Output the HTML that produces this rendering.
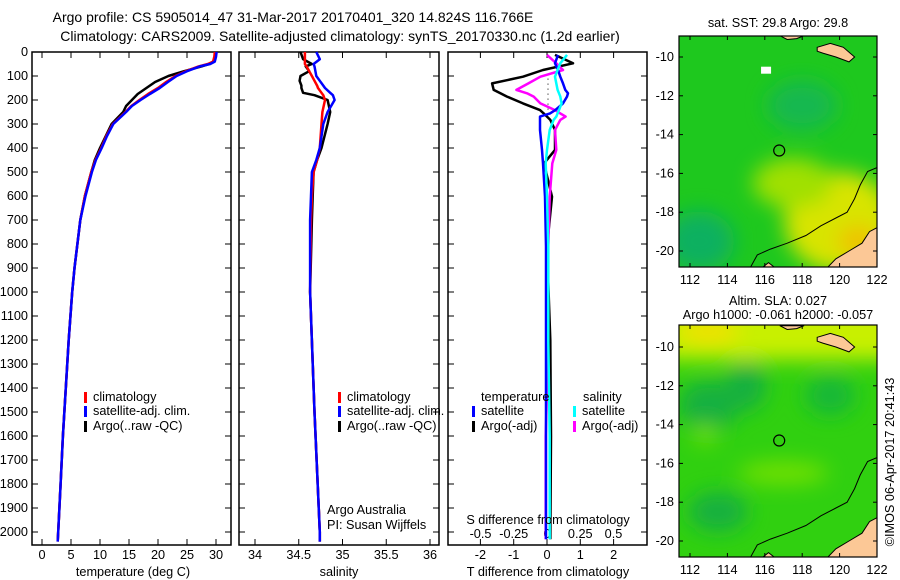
<!DOCTYPE html>
<html><head><meta charset="utf-8"><style>
body{margin:0;background:#fff;}
svg{display:block;font-family:"Liberation Sans",sans-serif;}
text{font-size:12.7px;fill:#000;}
</style></head><body>
<svg id="chart" width="900" height="580" viewBox="0 0 900 580">
<defs>
<filter id="blur1"><feGaussianBlur stdDeviation="10"/></filter>
<clipPath id="clipTop"><rect x="679" y="36" width="198" height="231"/></clipPath>
<clipPath id="clipBot"><rect x="679" y="325" width="198" height="232"/></clipPath>
</defs>
<g>
<text x="293" y="22" text-anchor="middle" style="font-size:14px">Argo profile: CS 5905014_47 31-Mar-2017 20170401_320 14.824S 116.766E</text>
<text x="340" y="41" text-anchor="middle" style="font-size:14px">Climatology: CARS2009. Satellite-adjusted climatology: synTS_20170330.nc (1.2d earlier)</text>
</g>
<g id="panels"></g>
<g id="maps"></g>
<text x="894" y="462" transform="rotate(-90 894 462)" text-anchor="middle">©IMOS 06-Apr-2017 20:41:43</text>
</svg>
<script>
// ---- data ----
const tDepth = [0,20,40,50,60,80,100,125,150,175,200,225,250,300,350,400,450,500,600,700,800,900,1000,1200,1400,1600,1800,2000,2040];
const tSat   = [30.1,30,29.8,29,27.2,25,23.2,21.7,20.3,18.6,17,15.5,14.5,12.3,11.2,10.3,9.3,8.6,7.5,6.6,6.1,5.6,5.2,4.6,4.1,3.6,3.2,2.8,2.7];
const tClim  = [29.8,29.7,29.5,28.6,27,24.8,23,21.4,20,18.3,16.8,15.4,14.4,12.2,11.1,10.2,9.2,8.5,7.4,6.6,6.1,5.6,5.2,4.6,4.1,3.6,3.2,2.8,2.7];
const tArgo  = [30,29.9,29.5,28.8,27.5,24.5,21.8,19.5,18,16.5,15.5,14.5,14,12,11,10,9.1,8.5,7.4,6.6,6.1,5.6,5.2,4.6,4.1,3.6,3.2,2.8,2.7];
const sDepth = [0,30,50,60,80,100,120,140,150,170,180,200,250,300,400,450,500,600,700,1000,1500,2000,2040];
const sSat   = [34.70,34.74,34.67,34.68,34.69,34.70,34.74,34.78,34.80,34.86,34.89,34.91,34.83,34.78,34.74,34.70,34.65,34.64,34.63,34.63,34.68,34.74,34.74];
const sClim  = [34.57,34.57,34.57,34.59,34.62,34.65,34.68,34.71,34.72,34.76,34.78,34.80,34.77,34.76,34.74,34.71,34.67,34.65,34.64,34.63,34.68,34.74,34.74];
const sArgo  = [34.52,34.55,34.65,34.58,34.62,34.52,34.51,34.53,34.53,34.55,34.68,34.83,34.86,34.83,34.76,34.71,34.67,34.66,34.65,34.63,34.68,34.74,34.74];
const dDepth = [12,47,75,103,131,158,172,186,214,242,256,269,283,325,408,464,603,811,1200,1600,2030];
const dTSat  = [0.33,0.24,0.33,0.40,0.48,0.55,0.63,0.60,0.48,0.25,0.09,-0.21,-0.21,-0.21,-0.15,-0.12,-0.06,-0.03,-0.03,-0.03,-0.03];
const dTArgo = [0.24,0.78,-0.12,-0.72,-1.65,-1.6,-1.4,-1.2,-0.72,-0.21,-0.1,0,0.1,0.24,0.24,-0.09,0.15,0,0.1,0.12,0.1];
const dSSat  = [0.15,0.10,0.08,0.06,0.07,0.08,0.09,0.10,0.11,0.09,0.08,0.07,0.05,0.02,0.0,-0.01,0,0.01,0.01,0.02,0.02];
const dSArgo = [0,0.07,0.12,-0.05,-0.14,-0.23,-0.15,-0.10,-0.05,0.06,0.10,0.14,0.10,0.06,0.07,0.04,0.02,0.01,0.01,-0.01,-0.01];
const depthTicks = [0,100,200,300,400,500,600,700,800,900,1000,1100,1200,1300,1400,1500,1600,1700,1800,1900,2000];
const tTicks = [0,5,10,15,20,25,30];
const sTicks = [34,34.5,35,35.5,36];
const dTTicks = [-2,-1,0,1,2];
const dSTicks = [-0.5,-0.25,0,0.25,0.5];
const dSTickLabels = ["-0.5","-0.25","0","0.25","0.5"];
const lonTicks = [112,114,116,118,120,122];
const latTicks = [-10,-12,-14,-16,-18,-20];

const NS="http://www.w3.org/2000/svg";
function mk(tag,attrs,parent){const e=document.createElementNS(NS,tag);for(const k in attrs)e.setAttribute(k,attrs[k]);parent.appendChild(e);return e;}
const yD = d => 52 + d*0.24;
const xT = v => 42 + v*5.8;
const xS = v => 255 + (v-34)*87.5;
const xDT = v => 547 + v*33.3;
const xDS = v => 547 + v*133;
const pTop=52,pBot=545;
const panels=document.getElementById('panels');

function frame(x0,x1,name){
  const r=mk('rect',{x:x0,y:pTop,width:x1-x0,height:pBot-pTop,fill:'none',stroke:'#000','stroke-width':1.5},panels);
  
  
  depthTicks.forEach(d=>{
    mk('line',{x1:x0,x2:x0+6,y1:yD(d),y2:yD(d),stroke:'#000'},panels);
    mk('line',{x1:x1-6,x2:x1,y1:yD(d),y2:yD(d),stroke:'#000'},panels);
  });
}
function xticks(vals,fx,labels,labelY,tickTop){
  vals.forEach((v,i)=>{
    const x=fx(v);
    mk('line',{x1:x,x2:x,y1:pBot,y2:pBot-6,stroke:'#000'},panels);
    if(tickTop) mk('line',{x1:x,x2:x,y1:pTop,y2:pTop+6,stroke:'#000'},panels);
    const t=mk('text',{x:x,y:labelY,'text-anchor':'middle'},panels);
    t.textContent=labels?labels[i]:String(v);
    
    
  });
}
function line(depths,vals,fx,color,name,w){
  const pts=depths.map((d,i)=>fx(vals[i]).toFixed(1)+','+yD(d).toFixed(1)).join(' ');
  const p=mk('polyline',{points:pts,fill:'none',stroke:color,'stroke-width':w||2.5,'stroke-linejoin':'round'},panels);
  
  
}
function legend(x,y,color,label){
  mk('rect',{x:x,y:y-9,width:3,height:11,fill:color},panels);
  const t=mk('text',{x:x+9,y:y},panels);t.textContent=label;
  
  
}
function txt(x,y,s,anchor,name){const t=mk('text',{x:x,y:y,'text-anchor':anchor||'start'},panels);t.textContent=s;
  
  return t;}

// Panel 1
frame(32,231,'temperature-panel');
depthTicks.forEach(d=>{const t=mk('text',{x:28,y:yD(d)+4,'text-anchor':'end'},panels);t.textContent=String(d);
  
  });
xticks(tTicks,xT,null,559,true);
line(tDepth,tArgo,xT,'#000','temp-argo-line');
line(tDepth,tClim,xT,'#f00','temp-climatology-line');
line(tDepth,tSat,xT,'#00f','temp-satellite-line');
txt(133,576,'temperature (deg C)','middle','x-axis-title-temperature');
legend(84,401,'#f00','climatology');
legend(84,415,'#00f','satellite-adj. clim.');
legend(84,430,'#000','Argo(..raw -QC)');

// Panel 2
frame(239,439,'salinity-panel');
xticks(sTicks,xS,null,559,true);
line(sDepth,sArgo,xS,'#000','sal-argo-line');
line(sDepth,sClim,xS,'#f00','sal-climatology-line');
line(sDepth,sSat,xS,'#00f','sal-satellite-line');
txt(339,576,'salinity','middle','x-axis-title-salinity');
legend(338,401,'#f00','climatology');
legend(338,415,'#00f','satellite-adj. clim.');
legend(338,430,'#000','Argo(..raw -QC)');
txt(327,514,'Argo Australia','start','credit-line1');
txt(327,529,'PI: Susan Wijffels','start','credit-line2');

// Panel 3
frame(448,647,'difference-panel');
mk('line',{x1:548,x2:548,y1:yD(90),y2:yD(250),stroke:'#000','stroke-dasharray':'1,4'},panels);
xticks(dTTicks,xDT,null,559,false);
dSTicks.forEach((v,i)=>{const t=mk('text',{x:xDS(v),y:538,'text-anchor':'middle'},panels);t.textContent=dSTickLabels[i];
  
  });
dTTicks.forEach(v=>mk('line',{x1:xDT(v),x2:xDT(v),y1:pTop,y2:pTop+6,stroke:'#000'},panels));
line(dDepth,dTArgo,xDT,'#000','tdiff-argo-line');
line(dDepth,dSArgo,xDS,'#f0f','sdiff-argo-line');
line(dDepth,dTSat,xDT,'#00f','tdiff-satellite-line');
line(dDepth,dSSat,xDS,'#0ff','sdiff-satellite-line');
txt(548,524,'S difference from climatology','middle','s-diff-axis-title');
txt(548,576,'T difference from climatology','middle','t-diff-axis-title');
txt(481,401,'temperature','start','legend-header-temperature');
txt(583,401,'salinity','start','legend-header-salinity');
legend(472,415,'#00f','satellite');
legend(472,430,'#000','Argo(-adj)');
legend(573,415,'#0ff','satellite');
legend(573,430,'#f0f','Argo(-adj)');

// ---- maps ----
const maps=document.getElementById('maps');
const lonX = lon => 690 + (lon-112)*18.7;
function drawMap(y0,y1,latY0,clip,name,title1,title2,kind){
  const g=mk('g',{'clip-path':'url(#'+clip+')'},maps);
  
  
  const latY = lat => latY0 + (-lat-10)*19.4;
  if(kind==='sst'){
    mk('rect',{x:679,y:y0,width:198,height:y1-y0,fill:'#1ec81e'},g);
    const b=mk('g',{filter:'url(#blur1)'},g);
    mk('ellipse',{cx:lonX(120),cy:latY(-18.5),rx:55,ry:50,fill:'#d8e400'},b);
    mk('ellipse',{cx:lonX(117.5),cy:latY(-16.5),rx:40,ry:25,fill:'#a0e000'},b);
    mk('ellipse',{cx:lonX(112.5),cy:latY(-19.5),rx:35,ry:30,fill:'#10b060'},b);
    mk('ellipse',{cx:lonX(118),cy:latY(-12.5),rx:35,ry:25,fill:'#18b850'},b);
    mk('ellipse',{cx:lonX(121),cy:latY(-19.5),rx:20,ry:15,fill:'#f0c000'},b);
    mk('rect',{x:lonX(115.8),y:latY(-10.5),width:10,height:7,fill:'#fff'},g);
  } else {
    mk('rect',{x:679,y:y0,width:198,height:y1-y0,fill:'#30d010'},g);
    const b=mk('g',{filter:'url(#blur1)'},g);
    mk('rect',{x:660,y:y0-20,width:240,height:55,fill:'#c8f000'},b);
    mk('ellipse',{cx:lonX(113),cy:latY(-13),rx:30,ry:25,fill:'#18b040'},b);
    mk('ellipse',{cx:lonX(115),cy:latY(-12),rx:20,ry:25,fill:'#18b040'},b);
    mk('ellipse',{cx:lonX(119.5),cy:latY(-12.5),rx:25,ry:20,fill:'#18b838'},b);
    mk('ellipse',{cx:lonX(113.5),cy:latY(-18.5),rx:30,ry:20,fill:'#18b040'},b);
    mk('ellipse',{cx:lonX(117),cy:latY(-16.5),rx:45,ry:12,fill:'#70e000'},b);
    mk('ellipse',{cx:lonX(112.8),cy:latY(-14.5),rx:12,ry:10,fill:'#70e000'},b);
    mk('ellipse',{cx:lonX(113),cy:latY(-9.2),rx:30,ry:12,fill:'#f0e000'},b);
  }
  const P = arr => arr.map(p=>lonX(p[0]).toFixed(1)+','+latY(p[1]).toFixed(1)).join(' ');
  const land='#fcc896';
  mk('polygon',{points:P([[119.3,-20.9],[119.8,-20.4],[120.5,-20.0],[121.2,-19.6],[121.6,-19.0],[122.2,-18.7],[122.2,-21],[119.3,-21]]),fill:land,stroke:'#000'},g);
  mk('polygon',{points:P([[118.8,-9.5],[119.5,-9.3],[120.2,-9.5],[120.8,-10.0],[120.5,-10.25],[119.8,-10.0],[119.1,-9.8],[118.8,-9.7]]),fill:land,stroke:'#000'},g);
  mk('polygon',{points:P([[116.8,-8.9],[117.2,-9.1],[117.7,-9.05],[118.1,-8.9]]),fill:land,stroke:'#000'},g);
  mk('polygon',{points:P([[115.8,-20.9],[116.2,-20.6],[116.6,-20.9]]),fill:land,stroke:'#000'},g);
  mk('polyline',{points:P([[115.2,-20.9],[115.6,-20.2],[116.3,-19.9],[117.2,-19.6],[118.2,-19.2],[119,-18.7],[119.8,-18.3],[120.4,-18.0],[120.8,-17.3],[121.1,-16.6],[121.5,-15.9],[122,-15.7]]),fill:'none',stroke:'#000'},g);
  const c=mk('circle',{cx:lonX(116.77),cy:latY(-14.82),r:5.5,fill:'none',stroke:'#000','stroke-width':1.2},maps);
  
  
  mk('rect',{x:679,y:y0,width:198,height:y1-y0,fill:'none',stroke:'#000','stroke-width':1.2},maps);
  lonTicks.forEach(l=>{
    mk('line',{x1:lonX(l),x2:lonX(l),y1:y1,y2:y1-4,stroke:'#000'},maps);
    mk('line',{x1:lonX(l),x2:lonX(l),y1:y0,y2:y0+4,stroke:'#000'},maps);
    const t=mk('text',{x:lonX(l),y:y1+17,'text-anchor':'middle'},maps);t.textContent=String(l);
    
    
  });
  latTicks.forEach(l=>{
    mk('line',{x1:679,x2:683,y1:latY(l),y2:latY(l),stroke:'#000'},maps);
    mk('line',{x1:873,x2:877,y1:latY(l),y2:latY(l),stroke:'#000'},maps);
    const t=mk('text',{x:674,y:latY(l)+4,'text-anchor':'end'},maps);t.textContent=String(l);
    
    
  });
  if(title1){const t=mk('text',{x:778,y:title2?y0-20:y0-9,'text-anchor':'middle'},maps);t.textContent=title1;
    
    }
  if(title2){const t=mk('text',{x:778,y:y0-6,'text-anchor':'middle'},maps);t.textContent=title2;
    
    }
}
drawMap(36,267,57,'clipTop','sst-map','sat. SST: 29.8 Argo: 29.8',null,'sst');
drawMap(325,557,347,'clipBot','sla-map','Altim. SLA: 0.027','Argo h1000: -0.061 h2000: -0.057','sla');
</script>
</body></html>
